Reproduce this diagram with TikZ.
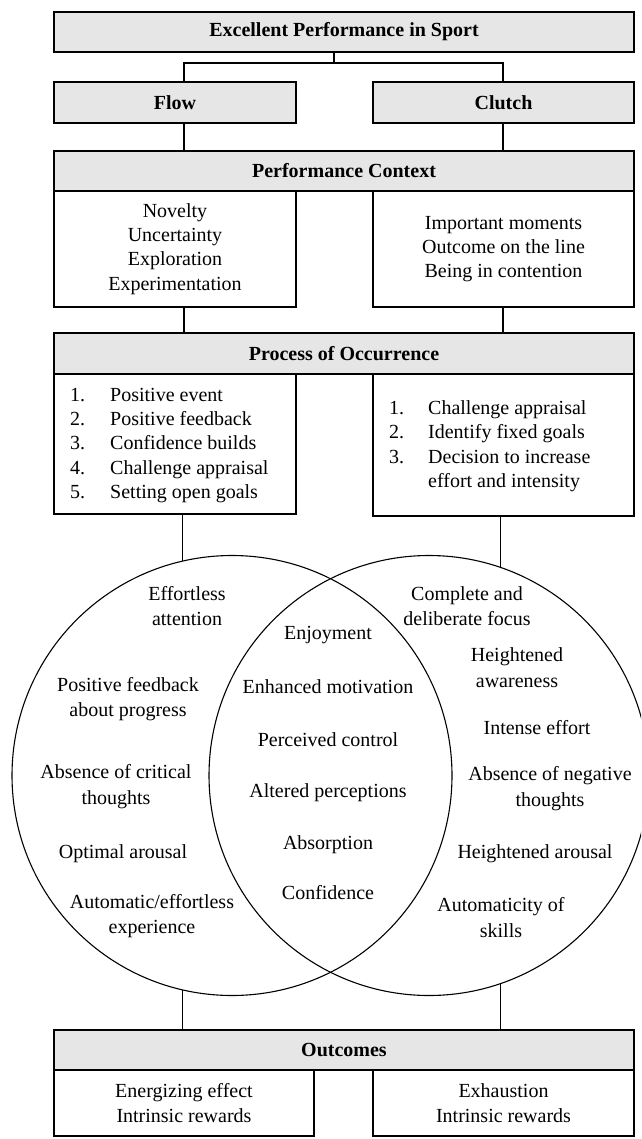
\documentclass[tikz,border=0pt]{standalone}
\usepackage{fontspec}
\setmainfont{Liberation Serif}
\definecolor{boxgray}{RGB}{230,230,230}
\tikzset{
  hdr/.style={draw, fill=boxgray, line width=1.3pt, font=\fontsize{20}{24.3}\selectfont\bfseries, inner sep=0pt},
  cbox/.style={draw, line width=1.3pt, align=center, inner sep=0pt},
  link/.style={line width=1.3pt},
  ring/.style={circle, draw, line width=1.1pt, inner sep=0pt, minimum size=440pt},
  vtxt/.style={align=center, font=\fontsize{20}{25.5}\selectfont, inner sep=0pt},
}

\begin{document}
\begin{tikzpicture}[x=1pt, y=-1pt, font=\fontsize{20}{24.3}\selectfont]%
  \useasboundingbox (0,0) rectangle (641,1139);
  \clip (0,0) rectangle (641,1139);
  % boxes
  \node[hdr, minimum width=580pt, minimum height=40pt] (top) at (344,32) {Excellent Performance in Sport};
  \node[hdr, minimum width=242pt, minimum height=41pt] (flow) at (175,102.5) {Flow};
  \node[hdr, minimum width=261pt, minimum height=41pt] (clutch) at (503.5,102.5) {Clutch};
  \node[hdr, minimum width=580pt, minimum height=40pt] (pcon) at (344,171) {Performance Context};
  \node[cbox, minimum width=242pt, minimum height=116pt] (pconl) at (175,249) {Novelty\\Uncertainty\\Exploration\\Experimentation};
  \node[cbox, minimum width=261pt, minimum height=116pt] (pconr) at (503.5,249) {Important moments\\Outcome on the line\\Being in contention};
  \node[hdr, minimum width=580pt, minimum height=41pt] (proc) at (344,353.5) {Process of Occurrence};
  \node[cbox, minimum width=242pt, minimum height=140pt] (procl) at (175,444) {};
  \node[cbox, minimum width=261pt, minimum height=142pt] (procr) at (503.5,445) {};
  \node[anchor=west, inner sep=0pt] (stepsl) at (70,445) {\begin{tabular}{@{}l@{\hspace{25pt}}l@{}}
    1. & Positive event\\
    2. & Positive feedback\\
    3. & Confidence builds\\
    4. & Challenge appraisal\\
    5. & Setting open goals
  \end{tabular}};
  \node[anchor=west, inner sep=0pt] (stepsr) at (389,446) {\begin{tabular}{@{}l@{\hspace{24pt}}l@{}}
    1. & Challenge appraisal\\
    2. & Identify fixed goals\\
    3. & Decision to increase\\
       & effort and intensity
  \end{tabular}};
  \node[hdr, minimum width=580pt, minimum height=40pt] (outc) at (344,1050) {Outcomes};
  \node[cbox, minimum width=260pt, minimum height=66pt] (outl) at (184,1103) {Energizing effect\\Intrinsic rewards};
  \node[cbox, minimum width=261pt, minimum height=66pt] (outr) at (503.5,1103) {Exhaustion\\Intrinsic rewards};

  % venn
  \node[ring] (fset) at (232,775.5) {};
  \node[ring] (cset) at (429,775.5) {};
  \foreach \px/\py/\txt [count=\i] in {187/606/{Effortless\\attention},
      128/699/{Positive feedback\\about progress},
      116/786.5/{Absence of critical\\thoughts},
      123/854/{Optimal arousal},
      152/916/{Automatic/effortless\\experience}}
    \node[vtxt] (flowitem\i) at (\px,\py) {\txt};
  \foreach \py/\txt [count=\i] in {635/Enjoyment, 687/Enhanced motivation,
      740/Perceived control, 793/Altered perceptions, 845/Absorption, 893/Confidence}
    \node[vtxt] (sharedit\i) at (328,\py) {\txt};
  \foreach \px/\py/\txt [count=\i] in {467/606/{Complete and\\deliberate focus},
      517/667.5/{Heightened\\awareness},
      537/728/{Intense effort},
      550/788.5/{Absence of negative\\thoughts},
      535/854/{Heightened arousal},
      501/917.5/{Automaticity of\\skills}}
    \node[vtxt] (clutchitem\i) at (\px,\py) {\txt};

  % connectors
  \coordinate (fork) at (334,63);
  \coordinate (lcol) at (184,0);
  \coordinate (rcol) at (503,0);
  \draw[link] (top.south -| fork) -- (fork);
  \draw[link] (flow.north -| lcol) |- (fork) -| (clutch.north -| rcol);
  \draw[link] (flow.south -| lcol) -- (pcon.north -| lcol);
  \draw[link] (clutch.south -| rcol) -- (pcon.north -| rcol);
  \draw[link] (pconl.south -| lcol) -- (proc.north -| lcol);
  \draw[link] (pconr.south -| rcol) -- (proc.north -| rcol);
  \draw[link] (procl.south -| fset.103) -- (fset.103);
  \draw[link] (procr.south -| cset.71) -- (cset.71);
  \draw[link] (fset.-103) -- (outc.north -| fset.-103);
  \draw[link] (cset.-71) -- (outc.north -| cset.-71);
\end{tikzpicture}
\end{document}
